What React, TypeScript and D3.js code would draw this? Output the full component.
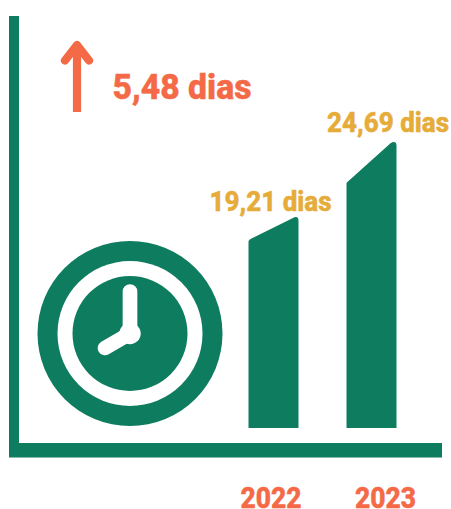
// App.tsx
import React, { useRef, useEffect } from 'react';
import * as d3 from 'd3';

const years = ['2022', '2023'];
const values = [19.21, 24.69];
const shoulderValues = [17.53, 21.77]; // where the slanted bar top starts on the left
const valueLabels = ['19,21 dias', '24,69 dias'];
const differenceLabel = '5,48 dias';

const GREEN = '#0d7c5f';
const ORANGE = '#f46a47';
const YELLOW = '#e6ac3a';
const FONT = 'Roboto, sans-serif';

const App = () => {
  const svgRef = useRef<SVGSVGElement>(null);

  useEffect(() => {
    const svg = d3.select(svgRef.current);
    svg.selectAll('*').remove();

    const x = d3.scaleBand().domain(years).range([248.5, 396.5]).paddingInner(0.49);
    // the drawn bars do not start at zero, the baseline sits near 3.8
    const y = d3.scaleLinear().domain([3.8, 24.69]).range([428, 142]);

    // axes
    svg.append('rect').attr('x', 9).attr('y', 16).attr('width', 10).attr('height', 441).attr('fill', GREEN);
    svg.append('rect').attr('x', 9).attr('y', 443).attr('width', 433).attr('height', 14.5).attr('fill', GREEN);

    // bars, slanted top with small rounded corner
    years.forEach((year, i) => {
      const x0 = x(year)!;
      const x1 = x0 + x.bandwidth();
      const top = y(values[i]);
      const shoulder = y(shoulderValues[i]);
      const base = y(3.8);
      const p = d3.path();
      p.moveTo(x0, base);
      p.lineTo(x0, shoulder + 1.5);
      p.quadraticCurveTo(x0, shoulder, x0 + 2, shoulder - 1);
      p.lineTo(x1 - 6, top + 1.2);
      p.quadraticCurveTo(x1, top - 2, x1, top + 4);
      p.lineTo(x1, base);
      p.closePath();
      svg.append('path').attr('d', p.toString()).attr('fill', GREEN);
    });

    const text = (s: string, tx: number, ty: number, size: number, color: string, len: number) =>
      svg.append('text')
        .attr('x', tx)
        .attr('y', ty)
        .attr('font-family', FONT)
        .attr('font-weight', 800)
        .attr('font-size', size)
        .attr('textLength', len)
        .attr('lengthAdjust', 'spacingAndGlyphs')
        .attr('stroke', color)
        .attr('stroke-width', 0.5)
        .attr('fill', color)
        .text(s);

    text(valueLabels[0], 209.5, 211, 28, YELLOW, 122);
    text(valueLabels[1], 327, 132, 28, YELLOW, 122);
    text(differenceLabel, 112.5, 98.5, 35, ORANGE, 139);
    text(years[0], 240.5, 507.5, 29, ORANGE, 61);
    text(years[1], 355, 507.5, 29, ORANGE, 61);

    // up arrow
    const arrow = svg.append('g').attr('stroke', ORANGE).attr('stroke-width', 8.2).attr('fill', 'none');
    arrow.append('line').attr('x1', 77).attr('x2', 77).attr('y1', 112).attr('y2', 46);
    arrow.append('path')
      .attr('d', d3.line()([[65, 60.5], [77, 45], [89, 60.5]])!)
      .attr('stroke-linecap', 'round')
      .attr('stroke-linejoin', 'round');

    // clock
    const clock = svg.append('g').attr('transform', 'translate(130,333.5)');
    clock.append('circle').attr('r', 92.5).attr('fill', GREEN);
    clock.append('circle').attr('r', 72.5).attr('fill', '#fff');
    clock.append('circle').attr('r', 57.5).attr('fill', GREEN);
    clock.append('circle').attr('r', 10.7).attr('fill', '#fff');
    clock.append('path')
      .attr('d', d3.line()([[0, -42], [0, 0], [-25, 14.5]])!)
      .attr('fill', 'none')
      .attr('stroke', '#fff')
      .attr('stroke-width', 14.7)
      .attr('stroke-linecap', 'round')
      .attr('stroke-linejoin', 'round');
  }, []);

  return (
    <svg
      ref={svgRef}
      width={451}
      height={509}
      style={{ position: 'absolute', left: 0, top: 0, background: '#fff' }}
    />
  );
};

export default App;
